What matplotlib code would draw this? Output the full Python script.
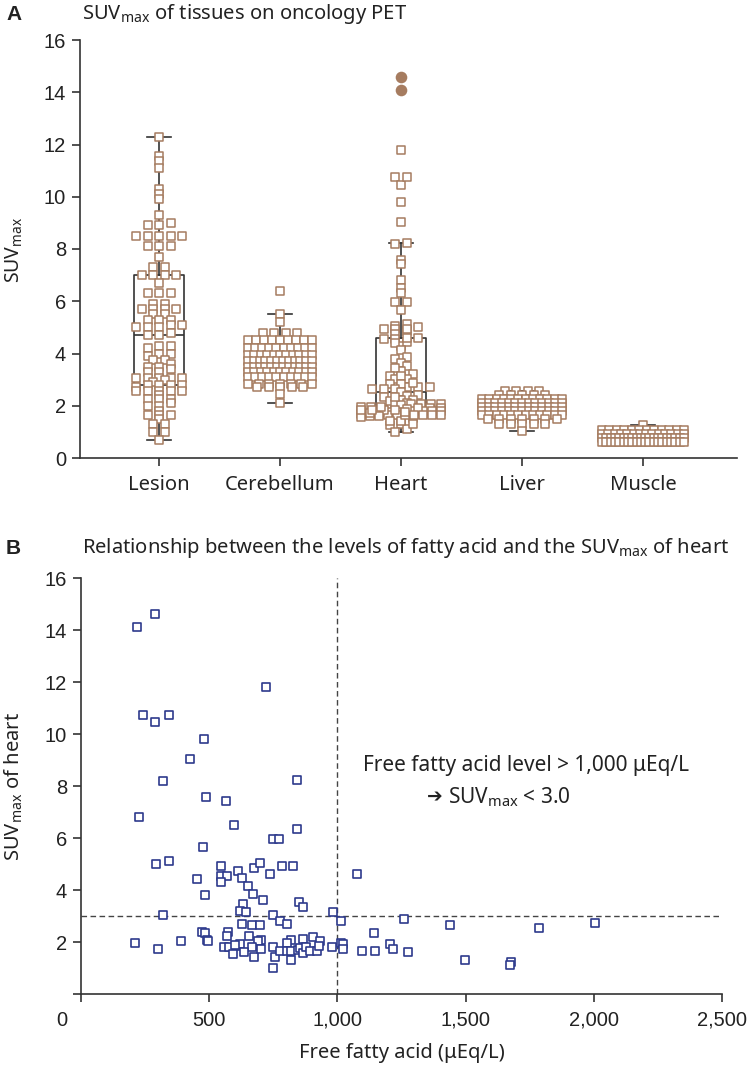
import numpy as np
import matplotlib
matplotlib.use("Agg")
import matplotlib.pyplot as plt
import matplotlib.transforms as mtrans

plt.rcParams['font.family'] = ['Liberation Sans', 'DejaVu Sans']
plt.rcParams['mathtext.fontset'] = 'custom'
plt.rcParams['mathtext.rm'] = 'Noto Sans'

# ---------------- data ----------------
categories = ["Lesion", "Cerebellum", "Heart", "Liver", "Muscle"]

lesion = [12.3, 11.55, 11.35, 11.1, 10.3, 10.1, 9.9, 9.3, 9.0, 8.9, 8.9,
          8.5, 8.5, 8.5, 8.5, 8.5, 8.1, 8.1, 8.1, 7.7, 7.3, 7.3,
          7.0, 7.0, 7.0, 7.0, 6.7, 6.3, 6.3, 6.3,
          5.9, 5.9, 5.7, 5.7, 5.7, 5.7, 5.5, 5.5, 5.3, 5.3, 5.3, 5.1, 5.1,
          5.0, 5.0, 5.0, 4.8, 4.7, 4.7, 4.3, 4.3, 4.2, 4.0, 4.0, 3.9,
          3.75, 3.75, 3.6, 3.5, 3.5, 3.4, 3.3, 3.3,
          3.05, 3.05, 3.05, 3.05, 3.05, 3.0, 2.9, 2.8, 2.8, 2.8, 2.8, 2.7,
          2.55, 2.55, 2.55, 2.55, 2.55, 2.4, 2.25, 2.25, 2.25, 2.1, 2.0, 2.0,
          1.8, 1.65, 1.65, 1.65, 1.5, 1.3, 1.3, 1.0, 1.0, 0.7]

cerebellum = ([6.4, 5.5, 5.2] + [4.8] * 4 + [4.5] * 9 + [4.2] * 10 + [3.95] * 11
              + [3.7] * 12 + [3.5] * 12 + [3.3] * 11 + [3.1] * 10 + [2.85] * 7
              + [2.7] * 5 + [2.45, 2.1])

liver = ([2.55] * 4 + [2.4] * 5 + [2.25] * 12 + [2.1] * 13 + [1.95] * 13
         + [1.8] * 13 + [1.65] * 12 + [1.5] * 7 + [1.3] * 5 + [1.05])

muscle = [1.25] + [1.08] * 12 + [0.92] * 14 + [0.78] * 20 + [0.62] * 20

# Panel B: free fatty acid (uEq/L) vs heart SUVmax (same heart data as panel A)
ffa = [217, 287, 721, 240, 288, 344, 481, 424, 319, 844, 487, 567, 226, 596, 844,
       747, 773, 476,
       294, 345, 547, 676, 699, 783, 826, 612, 547, 569, 547, 626, 453, 738, 1075,
       652, 670, 483, 711, 852, 867, 633, 620, 644, 320, 749, 981, 775, 802, 626,
       667, 697, 1015, 1259, 1438, 1785, 2006, 472, 483, 573, 569, 657, 702, 691,
       906, 865, 818, 933, 491, 494, 391, 211, 299, 1143, 1206, 1217, 1015, 1023,
       1023, 1094, 1146, 1277, 1498, 1678, 1673, 558, 579, 607, 620, 599, 667, 635,
       594, 676, 702, 749, 757, 749, 775, 805, 802, 820, 820, 845, 856, 865, 878,
       893, 920, 927, 980]
heart_suv = [14.1, 14.6, 11.8, 10.75, 10.45, 10.75, 9.8, 9.03, 8.2, 8.22, 7.56, 7.42,
             6.82, 6.5, 6.33, 5.96, 5.96, 5.65,
             5.0, 5.12, 4.92, 4.85, 5.05, 4.92, 4.92, 4.73, 4.55, 4.55, 4.3, 4.45, 4.42,
             4.6, 4.6, 4.15, 3.85, 3.8, 3.63, 3.52, 3.33, 3.45, 3.2, 3.14, 3.02, 3.03,
             3.15, 2.82, 2.7, 2.7, 2.65, 2.65, 2.82, 2.88, 2.66, 2.52, 2.72, 2.4, 2.35,
             2.38, 2.23, 2.22, 2.07, 2.02, 2.2, 2.1, 2.06, 2.05, 2.08, 2.02, 2.05, 1.95,
             1.75, 2.35, 1.93, 1.75, 1.95, 1.93, 1.74, 1.65, 1.65, 1.6, 1.3, 1.25, 1.1,
             1.8, 1.8, 1.83, 1.92, 1.87, 1.8, 1.6, 1.52, 1.42, 1.73, 1.8, 1.42, 1.0,
             1.65, 1.97, 1.65, 1.32, 1.65, 1.7, 1.76, 1.57, 1.82, 1.65, 1.65, 1.85, 1.82]

yticks = [0, 2, 4, 6, 8, 10, 12, 14, 16]
xticks_b = [0, 500, 1000, 1500, 2000, 2500]
xtick_labels_b = ["0", "500", "1,000", "1,500", "2,000", "2,500"]
ffa_cut = 1000
suv_cut = 3.0

# ---------------- styles ----------------
W, H = 754, 1082
DPI = 100
BROWN = '#A67C60'
NAVY = '#2D3A8C'
AXC = '#333333'
TXT = '#222222'
TF = ['Noto Sans', 'DejaVu Sans']
TICKF = ['Liberation Sans', 'DejaVu Sans']
HALF_WIDTH_PX = [38, 32, 40, 40, 41]


def row_offsets(values, row_h, step_px, px_x, max_half_px):
    """Prism-style column scatter: group close values into rows, spread each row."""
    vals = np.asarray(values, float)
    order = np.argsort(vals, kind='stable')
    rows, cur, start = [], [], None
    for i in order:
        if start is None or vals[i] - start >= row_h:
            if cur:
                rows.append(cur)
            cur, start = [i], vals[i]
        else:
            cur.append(i)
    if cur:
        rows.append(cur)
    xs = np.zeros(len(vals))
    for r in rows:
        n = len(r)
        if n == 1:
            continue
        step = min(step_px, 2 * max_half_px / (n - 1))
        for j, idx in enumerate(r):
            xs[idx] = (j - (n - 1) / 2) * step
    return xs / px_x


fig = plt.figure(figsize=(W / DPI, H / DPI), dpi=DPI)

# ---------------- Panel A ----------------
A_L, A_R, A_T, A_B = 80, 737, 40, 458
axA = fig.add_axes([A_L / W, 1 - A_B / H, (A_R - A_L) / W, (A_B - A_T) / H])
groups = [lesion, cerebellum, heart_suv, liver, muscle]
cat_px = 121.0
first_px = 159.0
xlim_a = ((A_L - first_px) / cat_px, (A_R - first_px) / cat_px)
axA.set_xlim(*xlim_a)
axA.set_ylim(0, 16)
px_per_x = cat_px

axA.boxplot(groups, positions=range(len(groups)), widths=0.42, whis=1.5,
            showfliers=False, capwidths=0.2,
            boxprops=dict(color=AXC, lw=1.2), whiskerprops=dict(color=AXC, lw=1.2),
            capprops=dict(color=AXC, lw=1.2), medianprops=dict(color=AXC, lw=1.2),
            zorder=1, manage_ticks=False)

for i, g in enumerate(groups):
    g = np.asarray(g, float)
    q1, q3 = np.percentile(g, [25, 75])
    iqr = q3 - q1
    far = (g > q3 + 3 * iqr) | (g < q1 - 3 * iqr)
    inner = g[~far]
    offs = row_offsets(inner, 0.12, 11.5, px_per_x, HALF_WIDTH_PX[i])
    axA.scatter(i + offs, inner, marker='s', s=38, facecolors='white',
                edgecolors=BROWN, linewidths=1.1, zorder=3)
    if far.any():
        axA.scatter(np.full(far.sum(), i), g[far], marker='o', s=70,
                    color=BROWN, zorder=3, linewidths=0)

axA.set_xticks(range(len(categories)))
axA.set_xticklabels(categories, fontsize=14.5, family=TF, color=TXT)
axA.set_yticks(yticks)
axA.set_yticklabels([str(t) for t in yticks], fontsize=14.5, family=TICKF, color=TXT)
for s in ['top', 'right']:
    axA.spines[s].set_visible(False)
for s in ['left', 'bottom']:
    axA.spines[s].set_color(AXC)
    axA.spines[s].set_linewidth(1.2)
axA.tick_params(axis='both', direction='out', length=6, width=1.2, color=AXC)
axA.tick_params(axis='x', pad=6)
axA.tick_params(axis='y', pad=4)

fig.text(6 / W, 1 - 14 / H, "A", fontsize=15, fontweight='bold', family=TICKF,
         va='center', ha='left', color=TXT)
fig.text(82 / W, 1 - 14 / H, r"SUV$_{\mathrm{max}}$ of tissues on oncology PET",
         fontsize=14.5, family=TF, va='center', ha='left', color=TXT)
fig.text(14 / W, 1 - 250 / H, r"SUV$_{\mathrm{max}}$", fontsize=14, family=TF,
         rotation=90, va='center', ha='center', color=TXT)

# ---------------- Panel B ----------------
axB = fig.add_axes([81 / W, 1 - 994 / H, (722 - 81) / W, (994 - 578) / H])
axB.set_xlim(0, 2500)
axB.set_ylim(0, 16)
axB.axvline(ffa_cut, color='#444444', lw=1.0, ls=(0, (4, 2.5)), zorder=1)
axB.axhline(suv_cut, color='#444444', lw=1.0, ls=(0, (4, 2.5)), zorder=1)
axB.scatter(ffa, heart_suv, marker='s', s=36, facecolors='white',
            edgecolors=NAVY, linewidths=1.2, zorder=3)

axB.set_xticks(xticks_b)
axB.set_xticklabels(xtick_labels_b, fontsize=14.5, family=TICKF, color=TXT)
axB.set_yticks(yticks)
axB.set_yticklabels([""] + [str(t) for t in yticks[1:]], fontsize=14.5,
                    family=TICKF, color=TXT)
for s in ['top', 'right']:
    axB.spines[s].set_visible(False)
for s in ['left', 'bottom']:
    axB.spines[s].set_color(AXC)
    axB.spines[s].set_linewidth(1.2)
axB.tick_params(axis='both', direction='out', length=6, width=1.2, color=AXC)
axB.tick_params(axis='x', pad=6)
axB.tick_params(axis='y', pad=4)
lab0 = axB.get_xticklabels()[0]
lab0.set_transform(lab0.get_transform() +
                   mtrans.ScaledTranslation(-14 / 72, 0, fig.dpi_scale_trans))

axB.text(1100, 8.8, "Free fatty acid level > 1,000 \u03bcEq/L", fontsize=15,
         family=TF, va='center', ha='left', color=TXT)
axB.text(1349, 7.58, "\u2794", fontsize=13.5, family=['DejaVu Sans'], va='center',
         ha='left', color=TXT)
axB.text(1430, 7.58, r"SUV$_{\mathrm{max}}$ < 3.0", fontsize=15, family=TF,
         va='center', ha='left', color=TXT)

fig.text(6 / W, 1 - 548 / H, "B", fontsize=15, fontweight='bold', family=TICKF,
         va='center', ha='left', color=TXT)
fig.text(82 / W, 1 - 548 / H,
         r"Relationship between the levels of fatty acid and the SUV$_{\mathrm{max}}$ of heart",
         fontsize=14.5, family=TF, va='center', ha='left', color=TXT)
fig.text(14 / W, 1 - 786 / H, r"SUV$_{\mathrm{max}}$ of heart", fontsize=14.5, family=TF,
         rotation=90, va='center', ha='center', color=TXT)
fig.text(402 / W, 1 - 1053 / H, "Free fatty acid (\u03bcEq/L)", fontsize=14.5, family=TF,
         va='center', ha='center', color=TXT)

fig.savefig("out.png", dpi=DPI)
